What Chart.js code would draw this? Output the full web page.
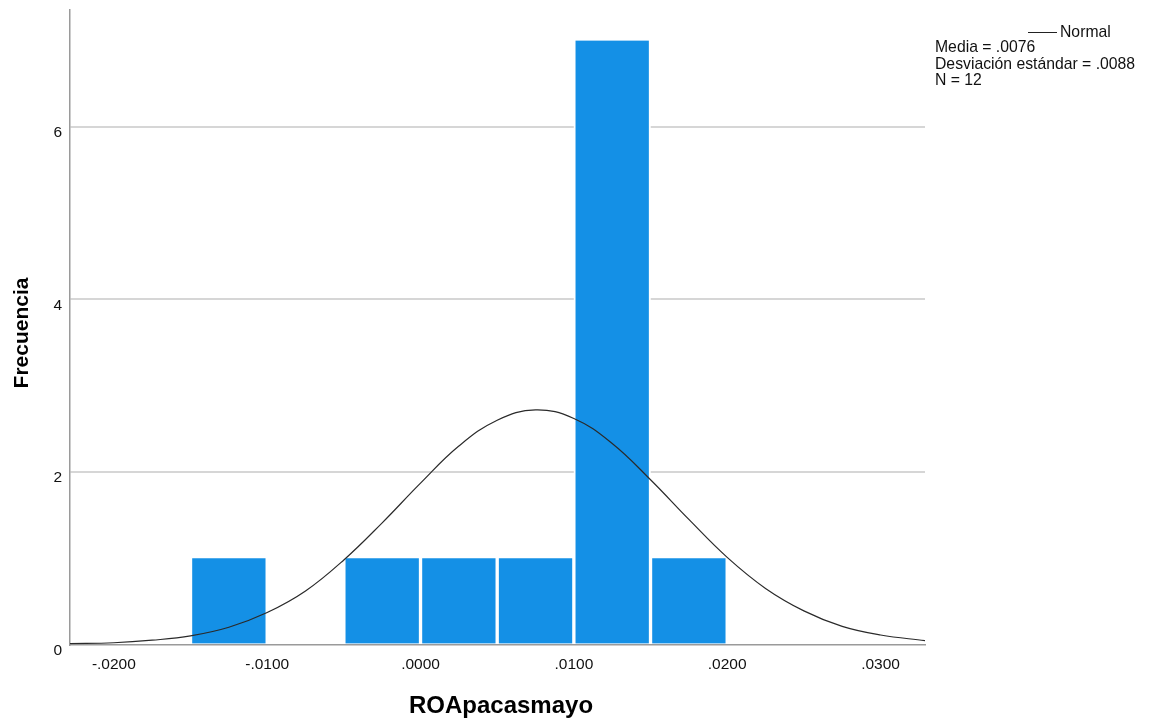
<!DOCTYPE html>
<html>
<head>
<meta charset="utf-8">
<title>ROApacasmayo</title>
<script src="https://cdn.jsdelivr.net/npm/chart.js@4.4.1/dist/chart.umd.min.js"></script>
<style>
  html, body { margin: 0; padding: 0; background: #ffffff; }
  #wrap { width: 1150px; height: 723px; position: relative; }
</style>
</head>
<body>
<div id="wrap"><canvas id="chart" width="1150" height="723"></canvas></div>
<script>
// Histogram bins (centre of each 0.005-wide bin) and their counts
const binCenters = [-0.0125, -0.0025, 0.0025, 0.0075, 0.0125, 0.0175];
const binCounts = [1, 1, 1, 1, 7, 1];

// Fitted normal curve, sampled along the axis
const curveX = [-0.0229, -0.0200, -0.0175, -0.0150, -0.0125, -0.0100, -0.0075, -0.0050, -0.0025,
                0.0000, 0.0025, 0.0050, 0.0075, 0.0100, 0.0125, 0.0150, 0.0175, 0.0200,
                0.0225, 0.0250, 0.0275, 0.0300, 0.0329];
const curveY = [0.01, 0.02, 0.05, 0.10, 0.20, 0.37, 0.62, 0.98, 1.41,
                1.87, 2.30, 2.60, 2.72, 2.62, 2.33, 1.91, 1.45, 1.01,
                0.65, 0.39, 0.21, 0.11, 0.045];

// Axis ticks
const xTicks = [-0.02, -0.01, 0.0, 0.01, 0.02, 0.03];
const yTicks = [0, 2, 4, 6];

// Text
const xTitle = 'ROApacasmayo';
const yTitle = 'Frecuencia';
const legendLine = 'Normal';
const statsLines = ['Media = .0076', 'Desviación estándar = .0088', 'N = 12'];

const FONT = '"Liberation Sans", Arial, Helvetica, sans-serif';

function fmtTick(v) {
  const s = Math.abs(v).toFixed(4).replace(/^0/, '');
  return (v < -1e-9 ? '-' : '') + s;
}

const barData = binCenters.map((x, i) => ({ x: x, y: binCounts[i] }));
const curveData = curveX.map((x, i) => ({ x: x, y: curveY[i] }));

const annotations = {
  id: 'annotations',
  afterDraw(chart) {
    const ctx = chart.ctx;
    ctx.save();
    // axis titles
    ctx.fillStyle = '#000000';
    ctx.textAlign = 'center';
    ctx.textBaseline = 'middle';
    ctx.font = 'bold 24px ' + FONT;
    ctx.fillText(xTitle, 501, 706);
    ctx.font = 'bold 21px ' + FONT;
    ctx.save();
    ctx.translate(22, 333);
    ctx.rotate(-Math.PI / 2);
    ctx.fillText(yTitle, 0, 0);
    ctx.restore();

    // legend sample line + label
    ctx.strokeStyle = '#222222';
    ctx.lineWidth = 1;
    ctx.beginPath();
    ctx.moveTo(1028, 32.5);
    ctx.lineTo(1057, 32.5);
    ctx.stroke();
    ctx.font = '15.75px ' + FONT;
    ctx.textAlign = 'left';
    ctx.fillStyle = '#111111';
    ctx.fillText(legendLine, 1060, 33);
    statsLines.forEach((t, i) => ctx.fillText(t, 935, 48 + i * 16.5));
    ctx.restore();
  }
};

new Chart(document.getElementById('chart'), {
  type: 'bar',
  data: {
    datasets: [
      {
        type: 'line',
        data: curveData,
        borderColor: '#2a2a2a',
        borderWidth: 1.2,
        pointRadius: 0,
        tension: 0.4,
        fill: false,
        order: 0
      },
      {
        type: 'bar',
        data: barData,
        backgroundColor: '#1490e6',
        borderColor: '#ffffff',
        borderWidth: { left: 2, right: 2, top: 0, bottom: 0 },
        borderSkipped: false,
        barPercentage: 1,
        categoryPercentage: 1,
        order: 1
      }
    ]
  },
  options: {
    responsive: false,
    animation: false,
    events: [],
    layout: { padding: { left: 0, right: 225, top: 9.5, bottom: 0 } },
    plugins: { legend: { display: false }, tooltip: { enabled: false } },
    scales: {
      x: {
        type: 'linear',
        min: -0.02286,
        max: 0.0329,
        offset: false,
        afterBuildTicks(scale) { scale.ticks = xTicks.map(v => ({ value: v })); },
        afterFit(scale) {
          scale.height = 78.5;
          scale.paddingLeft = 0;
          scale.paddingRight = 0;
        },
        grid: { display: false, drawTicks: false, offset: false },
        border: { display: true, color: '#9a9a9a', width: 1.5 },
        ticks: {
          padding: 11,
          color: '#111111',
          font: { family: FONT, size: 15.5 },
          maxRotation: 0,
          autoSkip: false,
          callback: (v) => fmtTick(v)
        }
      },
      y: {
        type: 'linear',
        min: 0,
        max: 7.36,
        afterBuildTicks(scale) { scale.ticks = yTicks.map(v => ({ value: v })); },
        afterFit(scale) {
          scale.width = 70;
          scale.paddingTop = 0;
          scale.paddingBottom = 0;
        },
        grid: {
          drawTicks: false,
          lineWidth: 2,
          color: (c) => (c.tick && c.tick.value === 0) ? 'rgba(0,0,0,0)' : '#d6d6d6'
        },
        border: { display: true, color: '#9a9a9a', width: 1.5 },
        ticks: {
          padding: 8,
          labelOffset: 6,
          color: '#111111',
          font: { family: FONT, size: 15.5 },
          callback: (v) => String(v)
        }
      }
    }
  },
  plugins: [annotations]
});
</script>
</body>
</html>
